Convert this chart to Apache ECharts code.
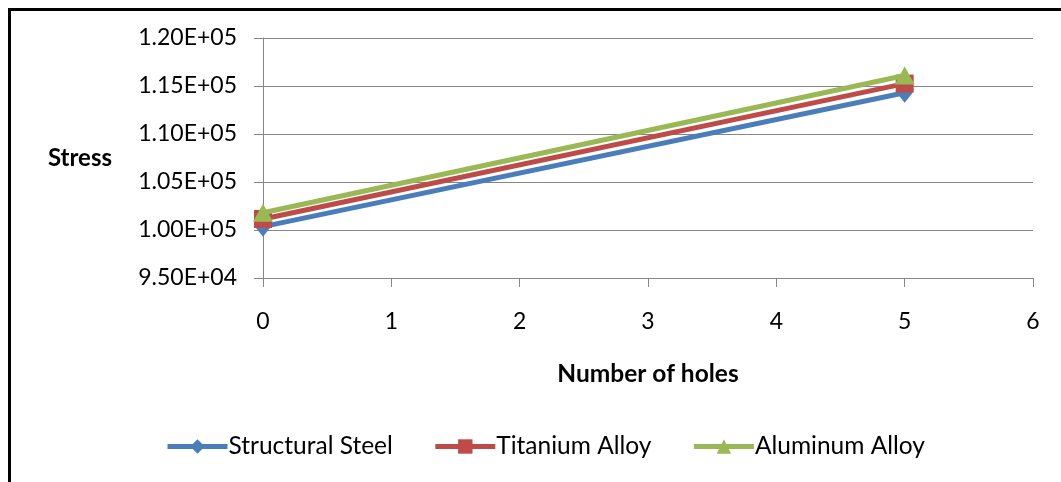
<!DOCTYPE html>
<html>
<head>
<meta charset="utf-8">
<script src="https://cdn.jsdelivr.net/npm/echarts@6/dist/echarts.min.js"></script>
<style>
  html, body { margin: 0; padding: 0; background: #fff; }
  #chart { width: 1061px; height: 482px; }
</style>
</head>
<body>
<div id="chart"></div>
<script>
// Stress versus number of holes for three plate materials
const holes = [0, 5];
const structuralSteel = [100350, 114300];
const titaniumAlloy = [101150, 115250];
const aluminumAlloy = [101800, 116100];
const seriesNames = ['Structural Steel', 'Titanium Alloy', 'Aluminum Alloy'];
const seriesColors = ['#4a7ebb', '#be4b48', '#98b954'];
const seriesSymbols = ['diamond', 'rect', 'triangle'];
const seriesValues = [structuralSteel, titaniumAlloy, aluminumAlloy];

const font = 'Lato, "Open Sans", sans-serif';
const chart = echarts.init(document.getElementById('chart'));

const symbolSizes = [[16, 20], [18, 18], [20, 18]];

// scientific notation like 1.20E+05
function sci(v) {
  const e = Math.floor(Math.log10(v));
  const m = (v / Math.pow(10, e)).toFixed(2);
  return m + 'E+' + String(e).padStart(2, '0');
}

chart.setOption({
  animation: false,
  grid: { left: 263, right: 28, top: 38, bottom: 204, containLabel: false },
  graphic: [
    { type: 'line', shape: { x1: 9.5, y1: 8, x2: 9.5, y2: 482 }, style: { stroke: '#000', lineWidth: 3 } },
    { type: 'line', shape: { x1: 8, y1: 9.5, x2: 1061, y2: 9.5 }, style: { stroke: '#000', lineWidth: 3 } }
  ],
  legend: {
    top: 429,
    left: 160,
    itemGap: 40,
    itemWidth: 60,
    itemHeight: 18,
    lineStyle: { width: 5 },
    textStyle: { fontFamily: font, fontSize: 24.5, color: '#000', padding: [0, 0, 0, -4] },
    data: seriesNames
  },
  xAxis: {
    type: 'value',
    min: 0, max: 6, interval: 1,
    name: 'Number of holes',
    nameLocation: 'middle',
    nameGap: 84,
    nameTextStyle: { fontFamily: font, fontSize: 24.5, fontWeight: 'bold', color: '#000' },
    axisLine: { show: true, onZero: false, lineStyle: { color: '#868686', width: 1 } },
    axisTick: { show: true, length: 9, lineStyle: { color: '#868686' } },
    axisLabel: { fontFamily: font, fontSize: 23, color: '#000', margin: 32 },
    splitLine: { show: false }
  },
  yAxis: {
    type: 'value',
    min: 95000, max: 120000, interval: 5000,
    name: 'Stress',
    nameLocation: 'middle',
    nameRotate: 0,
    nameGap: 151,
    nameTextStyle: { fontFamily: font, fontSize: 24, fontWeight: 'bold', color: '#000', padding: [9, 0, 0, 0] },
    axisLine: { show: true, lineStyle: { color: '#868686', width: 1 } },
    axisTick: { show: true, length: 9, lineStyle: { color: '#868686' } },
    axisLabel: { fontFamily: font, fontSize: 23, color: '#000', margin: 26, formatter: sci },
    splitLine: { show: true, lineStyle: { color: '#868686', width: 1 } }
  },
  series: seriesNames.map((name, i) => ({
    name,
    type: 'line',
    data: holes.map((h, j) => [h, seriesValues[i][j]]),
    symbol: seriesSymbols[i],
    symbolSize: symbolSizes[i],
    showAllSymbol: true,
    lineStyle: { color: seriesColors[i], width: 5 },
    itemStyle: { color: seriesColors[i], borderWidth: 0 },
    z: 2 + i
  }))
});
</script>
</body>
</html>
